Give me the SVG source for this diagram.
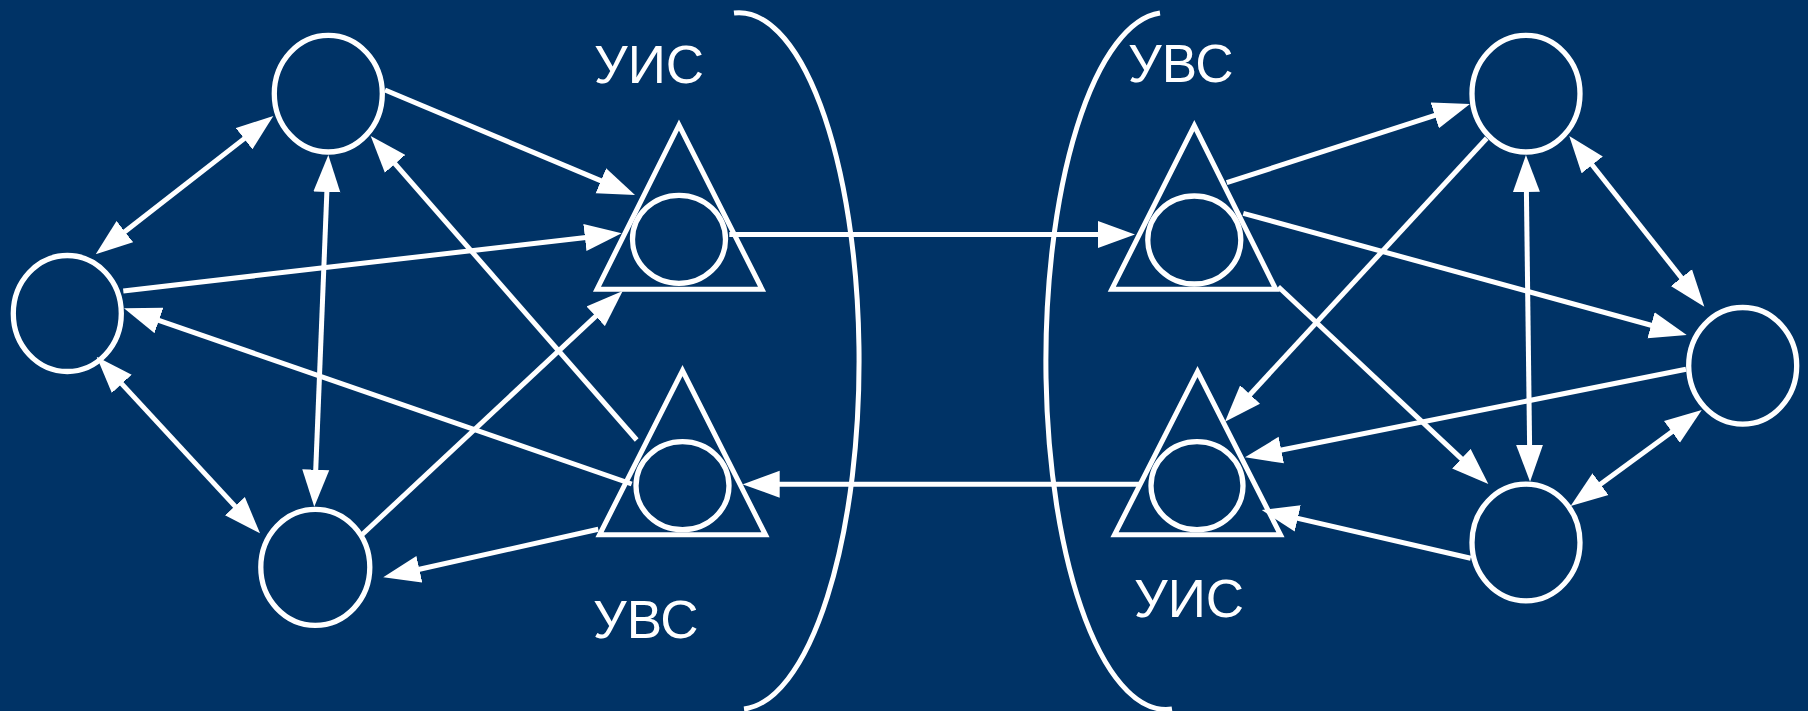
<svg xmlns="http://www.w3.org/2000/svg" width="1808" height="711" viewBox="0 0 1808 711">
  <defs>
    <marker id="head" viewBox="-1 -14 37 28" refX="0" refY="0" markerWidth="37" markerHeight="28" markerUnits="userSpaceOnUse" orient="auto-start-reverse">
      <path d="M-1,-13.5 L36,0 L-1,13.5 Z" fill="#ffffff"/>
    </marker>
  </defs>
  <style>
    .node { fill: none; stroke: #ffffff; stroke-width: 5.3; }
    .tri { fill: none; stroke: #ffffff; stroke-width: 5; stroke-linejoin: miter; }
    .edge { fill: none; stroke: #ffffff; stroke-width: 5; }
    .one { marker-end: url(#head); }
    .two { marker-start: url(#head); marker-end: url(#head); }
    .brace { fill: none; stroke: #ffffff; stroke-width: 5; }
    .label { font-family: "Liberation Sans", Arial, sans-serif; font-size: 53px; fill: #ffffff; }
  </style>

  <rect x="0" y="0" width="1808" height="711" fill="#003366"/>

  <!-- boundary arcs between the two networks -->
  <g id="boundaries">
    <path class="brace" d="M734,13 A120,348 0 0 1 744,709"/>
    <path class="brace" d="M1160,13 A120,348 0 0 0 1172,709"/>
  </g>

  <!-- left network -->
  <g id="nodeA"><ellipse class="node" cx="328.3" cy="93.7" rx="54" ry="58.3"/></g>
  <g id="nodeB"><ellipse class="node" cx="67.3" cy="313.5" rx="54" ry="58"/></g>
  <g id="nodeC"><ellipse class="node" cx="315.3" cy="567.3" rx="54.5" ry="58"/></g>

  <g id="gateUpperLeft">
    <polygon class="tri" points="679,125 597,289.2 762,289.2"/>
    <ellipse class="node" cx="679" cy="239.3" rx="46.5" ry="44"/>
  </g>
  <g id="gateLowerLeft">
    <polygon class="tri" points="682.5,370.6 599.5,534.8 765.5,534.8"/>
    <ellipse class="node" cx="682.5" cy="485.7" rx="46.5" ry="44"/>
  </g>

  <!-- right network -->
  <g id="gateUpperRight">
    <polygon class="tri" points="1194.3,125.6 1111.8,289.2 1275.8,289.2"/>
    <ellipse class="node" cx="1194.3" cy="240" rx="46.5" ry="44"/>
  </g>
  <g id="gateLowerRight">
    <polygon class="tri" points="1197.5,371.6 1114.5,534.8 1280.5,534.8"/>
    <ellipse class="node" cx="1197" cy="485.7" rx="46" ry="44"/>
  </g>

  <g id="nodeD"><ellipse class="node" cx="1526" cy="93.7" rx="54" ry="58.3"/></g>
  <g id="nodeE"><ellipse class="node" cx="1742.7" cy="365.8" rx="54" ry="58.3"/></g>
  <g id="nodeF"><ellipse class="node" cx="1526" cy="542.5" rx="54" ry="58.3"/></g>

  <!-- connectors: each path ends at the base of its arrowhead -->
  <g id="connectors">
    <path class="edge two" d="M244.9,138.1 L124.1,232.2"/>
    <path class="edge two" d="M326.9,191 L315.7,470.7"/>
    <path class="edge two" d="M121.1,383.1 L235.6,506.9"/>
    <path class="edge one" d="M123.3,291 L585.9,237.4"/>
    <path class="edge one" d="M385,90 L601.8,181.1"/>
    <path class="edge one" d="M636.7,440 L394.4,163.1"/>
    <path class="edge one" d="M631.7,484 L158,320.1"/>
    <path class="edge one" d="M361.7,535 L596.4,315.6"/>
    <path class="edge one" d="M598.3,529.3 L418.4,569.5"/>
    <path class="edge one" d="M729.3,234.5 L1099,234.5"/>
    <path class="edge one" d="M1139.3,484.3 L778.7,484.3"/>
    <path class="edge one" d="M1226.7,182.7 L1435.7,115.1"/>
    <path class="edge one" d="M1486.7,138.3 L1249.4,395.2"/>
    <path class="edge one" d="M1243.3,213.3 L1652,325.5"/>
    <path class="edge one" d="M1278.3,286.7 L1462.1,459.4"/>
    <path class="edge one" d="M1686,369.3 L1280.3,450.3"/>
    <path class="edge one" d="M1470.7,558.3 L1296.8,518.1"/>
    <path class="edge two" d="M1526.4,191 L1529.6,445.7"/>
    <path class="edge two" d="M1591.6,164.2 L1682,278.5"/>
    <path class="edge two" d="M1672.7,431.3 L1599.7,484.7"/>
  </g>

  <!-- labels -->
  <g id="labels">
    <text class="label" x="594" y="83">УИС</text>
    <text class="label" x="1128" y="82">УВС</text>
    <text class="label" x="593" y="638">УВС</text>
    <text class="label" x="1134" y="617">УИС</text>
  </g>
</svg>
